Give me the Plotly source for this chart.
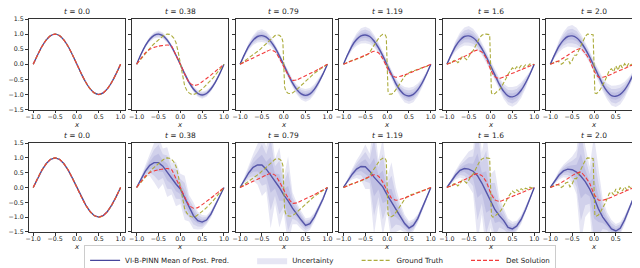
import plotly.graph_objects as go

W, H = 640, 268

t_labels = ["0.0", "0.38", "0.79", "1.19", "1.6", "2.0"]
x_ticks = [-1.0, -0.5, 0.0, 0.5, 1.0]
x_tick_text = ["\u22121.0", "\u22120.5", "0.0", "0.5", "1.0"]
y_ticks = [-1.5, -1.0, -0.5, 0.0, 0.5, 1.0, 1.5]
y_tick_text = ["\u22121.5", "\u22121.0", "\u22120.5", "0.0", "0.5", "1.0", "1.5"]
legend_names = ["VI-B-PINN Mean of Post. Pred.", "Uncertainty", "Ground Truth", "Det Solution"]

x_grid = [-1.0, -0.9, -0.8, -0.7, -0.6, -0.5, -0.4, -0.3, -0.2, -0.1, 0.0,
          0.1, 0.2, 0.3, 0.4, 0.5, 0.6, 0.7, 0.8, 0.9, 1.0]
x_gt = [-1.0, -0.95, -0.9, -0.85, -0.8, -0.75, -0.7, -0.65, -0.6, -0.55, -0.5,
        -0.45, -0.4, -0.35, -0.3, -0.25, -0.2, -0.15, -0.1, -0.05, -0.02, 0.0,
        0.02, 0.05, 0.1, 0.15, 0.2, 0.25, 0.3, 0.35, 0.4, 0.45, 0.5, 0.55, 0.6,
        0.65, 0.7, 0.75, 0.8, 0.85, 0.9, 0.95, 1.0]

# initial condition (t = 0), shared by all curves
u_t0 = [0, 0.309, 0.588, 0.809, 0.951, 1.0, 0.951, 0.809, 0.588, 0.309, 0,
        -0.309, -0.588, -0.809, -0.951, -1.0, -0.951, -0.809, -0.588, -0.309, 0]

# ground truth on x_gt
gt_038 = [0, 0.09, 0.18, 0.27, 0.36, 0.45, 0.53, 0.61, 0.68, 0.75, 0.82, 0.88, 0.93,
          0.98, 1.0, 0.99, 0.95, 0.87, 0.72, 0.42, 0.2, 0.0, -0.2, -0.42, -0.72,
          -0.87, -0.95, -0.99, -1.0, -0.98, -0.93, -0.88, -0.82, -0.75, -0.68,
          -0.61, -0.53, -0.45, -0.36, -0.27, -0.18, -0.09, 0]
gt_079 = [0, 0.05, 0.1, 0.15, 0.2, 0.25, 0.3, 0.36, 0.42, 0.48, 0.55, 0.62, 0.69,
          0.76, 0.83, 0.9, 0.95, 0.97, 0.96, 0.9, 0.75, 0.0, -0.75, -0.9, -0.96,
          -0.97, -0.95, -0.9, -0.83, -0.76, -0.69, -0.62, -0.55, -0.48, -0.42,
          -0.36, -0.3, -0.25, -0.2, -0.15, -0.1, -0.05, 0]
gt_119 = [0, 0.03, 0.07, 0.08, 0.13, 0.13, 0.18, 0.19, 0.22, 0.24, 0.27, 0.32, 0.4,
          0.5, 0.62, 0.74, 0.85, 0.94, 0.99, 0.99, 0.9, 0.0, -0.9, -0.99, -0.99,
          -0.94, -0.85, -0.74, -0.62, -0.5, -0.4, -0.32, -0.27, -0.24, -0.22,
          -0.19, -0.17, -0.14, -0.12, -0.09, -0.07, -0.03, 0]
gt_160 = [0, 0.04, 0.02, 0.12, 0.14, 0.05, 0.12, 0.25, 0.22, 0.15, 0.25, 0.38, 0.45,
          0.6, 0.76, 0.88, 0.96, 1.0, 1.0, 1.0, 0.98, 0.0, -0.95, -1.0, -0.97,
          -0.9, -0.85, -0.75, -0.63, -0.48, -0.33, -0.2, -0.12, -0.18, -0.08,
          -0.14, -0.04, -0.1, -0.02, -0.06, 0.01, -0.02, 0]
gt_200 = [0, 0.03, 0.08, 0.1, 0.08, 0.0, 0.05, 0.15, 0.18, 0.02, 0.12, 0.3, 0.3,
          0.45, 0.6, 0.78, 0.92, 1.0, 1.0, 1.0, 0.98, 0.0, -0.95, -0.97, -0.93,
          -0.82, -0.7, -0.55, -0.38, -0.2, -0.15, -0.25, -0.05, -0.2, 0.0,
          -0.12, 0.02, -0.08, 0.04, -0.04, 0.06, 0.02, 0.0]

# deterministic PINN solution on x_grid
det_038 = [0, 0.2, 0.38, 0.5, 0.56, 0.6, 0.62, 0.64, 0.6, 0.3, 0.0, -0.32, -0.6,
           -0.7, -0.68, -0.58, -0.47, -0.36, -0.24, -0.12, 0]
det_079 = [0, 0.07, 0.14, 0.21, 0.28, 0.35, 0.42, 0.48, 0.42, 0.2, -0.08, -0.35,
           -0.53, -0.52, -0.45, -0.38, -0.31, -0.24, -0.16, -0.08, 0]
det_119 = [0, 0.06, 0.12, 0.18, 0.24, 0.3, 0.37, 0.43, 0.38, 0.18, -0.12, -0.36,
           -0.43, -0.4, -0.35, -0.3, -0.24, -0.18, -0.12, -0.06, 0]
det_160 = [0, 0.06, 0.12, 0.19, 0.26, 0.33, 0.42, 0.47, 0.4, 0.2, -0.18, -0.42,
           -0.47, -0.42, -0.36, -0.3, -0.24, -0.18, -0.12, -0.06, 0]
det_200 = [0, 0.06, 0.12, 0.21, 0.3, 0.4, 0.48, 0.52, 0.36, 0.14, -0.22, -0.42,
           -0.43, -0.39, -0.33, -0.26, -0.2, -0.14, -0.07, -0.01, 0.05]

# VI-B-PINN posterior mean and std, top row
mean_top_038 = [0, 0.33, 0.62, 0.83, 0.96, 1.0, 0.95, 0.8, 0.58, 0.3, 0.0, -0.32,
                -0.6, -0.82, -0.97, -1.02, -0.97, -0.82, -0.6, -0.32, 0]
mean_top_079 = [0, 0.32, 0.6, 0.8, 0.92, 0.95, 0.9, 0.76, 0.55, 0.28, -0.02, -0.33,
                -0.62, -0.84, -0.98, -1.03, -0.98, -0.83, -0.6, -0.32, 0]
mean_top_119 = [0, 0.33, 0.62, 0.82, 0.94, 0.97, 0.92, 0.77, 0.55, 0.28, -0.03,
                -0.34, -0.64, -0.87, -1.01, -1.05, -1.0, -0.85, -0.62, -0.33, 0]
mean_top_160 = [0, 0.32, 0.6, 0.8, 0.92, 0.94, 0.88, 0.74, 0.52, 0.25, -0.05, -0.36,
                -0.66, -0.9, -1.05, -1.08, -1.02, -0.86, -0.62, -0.33, 0]
mean_top_200 = [0, 0.32, 0.6, 0.8, 0.92, 0.94, 0.88, 0.73, 0.51, 0.24, -0.06, -0.37,
                -0.67, -0.9, -1.04, -1.06, -1.0, -0.85, -0.62, -0.33, 0]
std_top_038 = [0, 0.01, 0.02, 0.03, 0.035, 0.04, 0.035, 0.03, 0.025, 0.02, 0.02,
               0.02, 0.025, 0.03, 0.035, 0.04, 0.035, 0.03, 0.02, 0.01, 0]
std_top_079 = [0, 0.02, 0.04, 0.055, 0.065, 0.07, 0.065, 0.055, 0.045, 0.04, 0.035,
               0.04, 0.045, 0.055, 0.065, 0.07, 0.065, 0.055, 0.04, 0.02, 0]
std_top_119 = [0, 0.025, 0.05, 0.07, 0.085, 0.09, 0.085, 0.07, 0.06, 0.05, 0.045,
               0.05, 0.06, 0.07, 0.085, 0.09, 0.085, 0.07, 0.05, 0.025, 0]
std_top_160 = [0, 0.03, 0.06, 0.085, 0.1, 0.11, 0.1, 0.085, 0.07, 0.06, 0.055, 0.06,
               0.07, 0.085, 0.1, 0.11, 0.1, 0.085, 0.06, 0.03, 0]
std_top_200 = [0, 0.035, 0.065, 0.09, 0.11, 0.12, 0.11, 0.09, 0.075, 0.065, 0.06,
               0.065, 0.075, 0.09, 0.11, 0.12, 0.11, 0.09, 0.065, 0.035, 0]

# bottom row
mean_bot_038 = [0, 0.3, 0.55, 0.75, 0.84, 0.84, 0.72, 0.52, 0.3, 0.12, -0.05, -0.35,
                -0.7, -0.95, -1.12, -1.17, -1.1, -0.9, -0.6, -0.3, 0]
mean_bot_079 = [0, 0.25, 0.5, 0.68, 0.76, 0.76, 0.62, 0.42, 0.22, 0.0, -0.25, -0.45,
                -0.7, -0.88, -1.1, -1.28, -1.22, -1.0, -0.7, -0.38, 0]
mean_bot_119 = [0, 0.25, 0.45, 0.62, 0.71, 0.7, 0.55, 0.35, 0.18, 0.02, -0.25, -0.5,
                -0.75, -0.98, -1.22, -1.37, -1.28, -1.05, -0.72, -0.38, 0]
mean_bot_160 = [0, 0.22, 0.42, 0.58, 0.64, 0.62, 0.55, 0.4, 0.15, -0.15, -0.45,
                -0.75, -0.95, -1.12, -1.35, -1.4, -1.3, -1.08, -0.75, -0.4, 0]
mean_bot_200 = [0, 0.22, 0.42, 0.56, 0.62, 0.6, 0.52, 0.38, 0.2, -0.05, -0.35,
                -0.72, -1.0, -1.2, -1.4, -1.47, -1.38, -1.1, -0.75, -0.38, 0]
std_bot_038 = [0, 0.03, 0.06, 0.12, 0.22, 0.3, 0.2, 0.28, 0.18, 0.25, 0.17, 0.25,
               0.15, 0.15, 0.1, 0.08, 0.05, 0.04, 0.03, 0.02, 0]
std_bot_079 = [0, 0.03, 0.08, 0.15, 0.22, 0.35, 0.25, 0.6, 0.25, 0.45, 0.2, 0.5,
               0.18, 0.12, 0.1, 0.08, 0.07, 0.05, 0.04, 0.03, 0]
std_bot_119 = [0, 0.03, 0.06, 0.1, 0.15, 0.25, 0.2, 0.65, 0.25, 0.55, 0.2, 0.45,
               0.25, 0.15, 0.1, 0.08, 0.07, 0.05, 0.04, 0.02, 0]
std_bot_160 = [0, 0.03, 0.05, 0.08, 0.12, 0.2, 0.25, 0.75, 0.35, 0.7, 0.3, 0.45,
               0.2, 0.15, 0.1, 0.08, 0.06, 0.05, 0.04, 0.02, 0]
std_bot_200 = [0, 0.03, 0.05, 0.07, 0.1, 0.15, 0.25, 0.75, 0.4, 0.25, 0.7, 0.45,
               0.2, 0.12, 0.1, 0.08, 0.07, 0.05, 0.04, 0.02, 0]

gt_series = [u_t0, gt_038, gt_079, gt_119, gt_160, gt_200]
det_series = [u_t0, det_038, det_079, det_119, det_160, det_200]
mean_rows = [[u_t0, mean_top_038, mean_top_079, mean_top_119, mean_top_160, mean_top_200],
             [u_t0, mean_bot_038, mean_bot_079, mean_bot_119, mean_bot_160, mean_bot_200]]
std_rows = [[None, std_top_038, std_top_079, std_top_119, std_top_160, std_top_200],
            [None, std_bot_038, std_bot_079, std_bot_119, std_bot_160, std_bot_200]]

C_MEAN = "#46469c"
C_BAND = "rgba(105,105,190,0.17)"
C_GT = "#acac3c"
C_DET = "#f23b3b"
FONT = "DejaVu Sans"
PAD = "\u00a0" * 8

row_px = [(7.3, 101.7), (136.7, 229.3)]
col_step = 104.4
col_w = 97

fig = go.Figure()
layout = dict(width=W, height=H, margin=dict(l=0, r=0, t=0, b=0),
              paper_bgcolor="white", plot_bgcolor="white",
              font=dict(family=FONT, size=7, color="#222"),
              annotations=[])

legend_done = set()
for r in range(2):
    for c in range(6):
        i = r * 6 + c + 1
        sx = "" if i == 1 else str(i)
        xref, yref = "x" + sx, "y" + sx
        x0 = 16 + col_step * c
        yt, yb = row_px[r]
        layout["xaxis" + sx] = dict(
            domain=[x0 / W, (x0 + col_w) / W], anchor=yref, range=[-1.1, 1.1],
            tickvals=x_ticks, ticktext=x_tick_text, ticks="outside", ticklen=3,
            tickwidth=0.8, tickcolor="#333", showline=True, mirror=True,
            linecolor="#333", linewidth=0.8, showgrid=False, zeroline=False,
            ticklabelstandoff=-2,
            tickfont=dict(size=6.3, family=FONT, color="#222"), fixedrange=True)
        layout["yaxis" + sx] = dict(
            domain=[1 - yb / H, 1 - yt / H], anchor=xref, range=[-1.5, 1.5],
            tickvals=y_ticks, ticktext=y_tick_text, ticks="outside", ticklen=3,
            tickwidth=0.8, tickcolor="#333", showline=True, mirror=True,
            linecolor="#333", linewidth=0.8, showgrid=False, zeroline=False,
            showticklabels=(c == 0),
            tickfont=dict(size=6.3, family=FONT, color="#222"), fixedrange=True)
        cx = (x0 + col_w / 2) / W
        layout["annotations"].append(dict(
            text="<i>t</i> = " + t_labels[c], x=cx, y=1 - (yt - 1) / H,
            xref="paper", yref="paper", xanchor="center", yanchor="bottom",
            showarrow=False, font=dict(size=7.5, family=FONT, color="#222")))
        layout["annotations"].append(dict(
            text="<i>x</i>", x=cx, y=1 - (yb + 16) / H,
            xref="paper", yref="paper", xanchor="center", yanchor="middle",
            showarrow=False, font=dict(size=7, family=FONT, color="#222")))

        mean = mean_rows[r][c]
        std = std_rows[r][c]
        shape = "spline" if r == 0 else "linear"
        fig.add_trace(go.Scatter(
            x=x_grid, y=mean, mode="lines", xaxis=xref, yaxis=yref,
            line=dict(color=C_MEAN, width=1.4, shape=shape, smoothing=0.6),
            name=legend_names[0] + PAD, legendrank=1,
            showlegend=("m" not in legend_done)))
        legend_done.add("m")
        if std is not None:
            for k in (3, 2, 1):
                up = [m + k * s for m, s in zip(mean, std)]
                lo = [m - k * s for m, s in zip(mean, std)]
                fig.add_trace(go.Scatter(
                    x=x_grid + x_grid[::-1], y=up + lo[::-1], mode="lines",
                    fill="toself", fillcolor=C_BAND, line=dict(width=0, color=C_BAND),
                    xaxis=xref, yaxis=yref, hoverinfo="skip",
                    name=legend_names[1] + PAD, legendrank=2,
                    showlegend=("u" not in legend_done)))
                legend_done.add("u")
        gx = x_grid if c == 0 else x_gt
        fig.add_trace(go.Scatter(
            x=gx, y=gt_series[c], mode="lines", xaxis=xref, yaxis=yref,
            line=dict(color=C_GT, width=1.1, dash="4px,2px",
                      shape="spline" if c == 0 else "linear"),
            name=legend_names[2] + PAD, legendrank=3,
            showlegend=("g" not in legend_done)))
        legend_done.add("g")
        fig.add_trace(go.Scatter(
            x=x_grid, y=det_series[c], mode="lines", xaxis=xref, yaxis=yref,
            line=dict(color=C_DET, width=1.1, dash="4px,2px", shape="spline",
                      smoothing=0.5),
            name=legend_names[3], legendrank=4, showlegend=("d" not in legend_done)))
        legend_done.add("d")

layout["legend"] = dict(orientation="h", x=310 / W, xanchor="center",
                        y=1 - 259 / H, yanchor="middle",
                        bgcolor="white", bordercolor="#cccccc", borderwidth=1,
                        font=dict(size=7.1, family=FONT, color="#222"),
                        itemwidth=30, tracegroupgap=0)
layout["showlegend"] = True
fig.update_layout(**layout)
fig.write_html("out.html")
